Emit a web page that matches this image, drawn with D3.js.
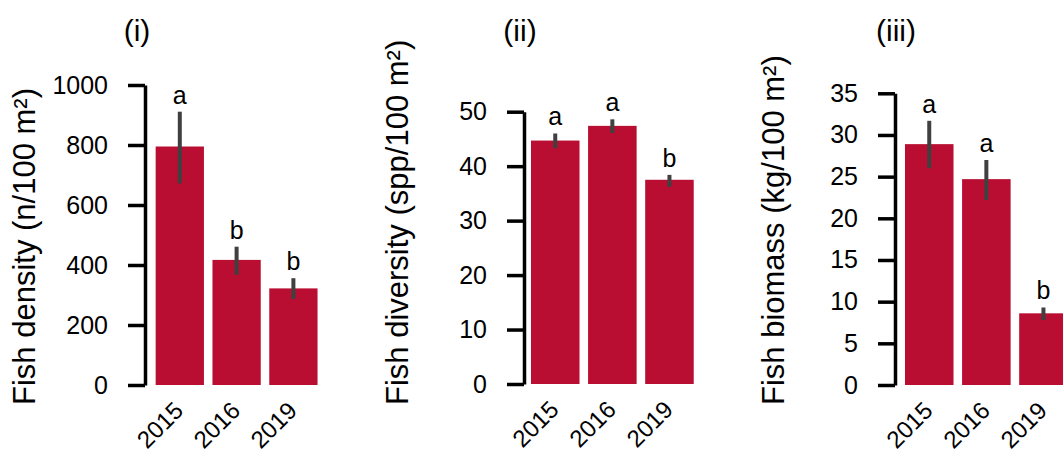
<!DOCTYPE html>
<html>
<head>
<meta charset="utf-8">
<script src="https://cdn.jsdelivr.net/npm/d3@7"></script>
<style>
  html, body { margin: 0; padding: 0; background: #ffffff; }
  svg { display: block; }
  text { font-family: "Liberation Sans", Arial, sans-serif; fill: #000; }
</style>
</head>
<body>
<svg id="chart" width="1063" height="452"></svg>
<script>
// ---------- data ----------
const years = ["2015", "2016", "2019"];
const panelTitles = ["(i)", "(ii)", "(iii)"];
const yLabels = ["Fish density (n/100 m²)", "Fish diversity (spp/100 m²)", "Fish biomass (kg/100 m²)"];

const densityMean = [795, 417, 322];
const densityLow  = [672, 367, 286];
const densityHigh = [911, 461, 356];
const densityLetters = ["a", "b", "b"];
const densityTicks = [0, 200, 400, 600, 800, 1000];

const diversityMean = [44.7, 47.4, 37.5];
const diversityLow  = [43.3, 46.1, 36.2];
const diversityHigh = [46.0, 48.6, 38.4];
const diversityLetters = ["a", "a", "b"];
const diversityTicks = [0, 10, 20, 30, 40, 50];

const biomassMean = [28.9, 24.7, 8.6];
const biomassLow  = [26.0, 22.2, 7.8];
const biomassHigh = [31.7, 27.0, 9.3];
const biomassLetters = ["a", "a", "b"];
const biomassTicks = [0, 5, 10, 15, 20, 25, 30, 35];

// ---------- layout ----------
const layout = [
  { axisX: 145, y0: 385, yTop: 85,    band: [151.4, 321.8], titleX: 137, labelX: 35 },
  { axisX: 524, y0: 384, yTop: 111.7, band: [526.7, 698.0], titleX: 520, labelX: 408 },
  { axisX: 895, y0: 385, yTop: 93.3,  band: [900.7, 1072.0], titleX: 896, labelX: 784 }
];

const panels = [
  { mean: densityMean, low: densityLow, high: densityHigh, letters: densityLetters, ticks: densityTicks },
  { mean: diversityMean, low: diversityLow, high: diversityHigh, letters: diversityLetters, ticks: diversityTicks },
  { mean: biomassMean, low: biomassLow, high: biomassHigh, letters: biomassLetters, ticks: biomassTicks }
];

const barColor = "#b90e31";
const errColor = "#404040";

const svg = d3.select("#chart");

panels.forEach((p, i) => {
  const L = layout[i];
  const g = svg.append("g");
  const maxTick = d3.max(p.ticks);

  const y = d3.scaleLinear().domain([0, maxTick]).range([L.y0, L.yTop]);
  const x = d3.scaleBand().domain(years).range(L.band).paddingInner(0.15).paddingOuter(0.075);

  const rows = years.map((yr, k) => ({ yr, mean: p.mean[k], low: p.low[k], high: p.high[k], letter: p.letters[k] }));

  // bars
  g.selectAll("rect.bar").data(rows).enter().append("rect")
    .attr("class", "bar")
    .attr("x", d => x(d.yr))
    .attr("width", x.bandwidth())
    .attr("y", d => y(d.mean))
    .attr("height", d => y(0) - y(d.mean))
    .attr("fill", barColor);

  // error bars
  g.selectAll("line.err").data(rows).enter().append("line")
    .attr("class", "err")
    .attr("x1", d => x(d.yr) + x.bandwidth() / 2)
    .attr("x2", d => x(d.yr) + x.bandwidth() / 2)
    .attr("y1", d => y(d.low))
    .attr("y2", d => y(d.high))
    .attr("stroke", errColor)
    .attr("stroke-width", 4);

  // significance letters
  g.selectAll("text.letter").data(rows).enter().append("text")
    .attr("class", "letter")
    .attr("x", d => x(d.yr) + x.bandwidth() / 2)
    .attr("y", d => y(d.high) - 8)
    .attr("text-anchor", "middle")
    .style("font-size", "25px")
    .text(d => d.letter);

  // y axis
  const axis = d3.axisLeft(y).tickValues(p.ticks).tickSizeInner(17).tickSizeOuter(0).tickPadding(20)
    .tickFormat(d3.format("d"));
  const ag = g.append("g").attr("transform", `translate(${L.axisX},0)`).call(axis);
  ag.select(".domain").attr("stroke", "#000").attr("stroke-width", 3.5);
  ag.selectAll(".tick line").attr("stroke", "#000").attr("stroke-width", 3.5);
  ag.selectAll(".tick text").style("font-size", "25px")
    .style("font-family", '"Liberation Sans", Arial, sans-serif').attr("fill", "#000");

  // x labels (rotated)
  g.selectAll("text.xlab").data(rows).enter().append("text")
    .attr("class", "xlab")
    .attr("text-anchor", "end")
    .style("font-size", "24px")
    .attr("transform", d => `translate(${x(d.yr) + x.bandwidth() / 2 + 5},${L.y0 + 27}) rotate(-45)`)
    .text(d => d.yr);

  // y label
  g.append("text")
    .attr("text-anchor", "start")
    .style("font-size", "31px")
    .attr("transform", `translate(${L.labelX},405) rotate(-90)`)
    .text(yLabels[i]);

  // panel title
  g.append("text")
    .attr("x", L.titleX)
    .attr("y", 41)
    .attr("text-anchor", "middle")
    .style("font-size", "30px")
    .text(panelTitles[i]);
});
</script>
</body>
</html>
